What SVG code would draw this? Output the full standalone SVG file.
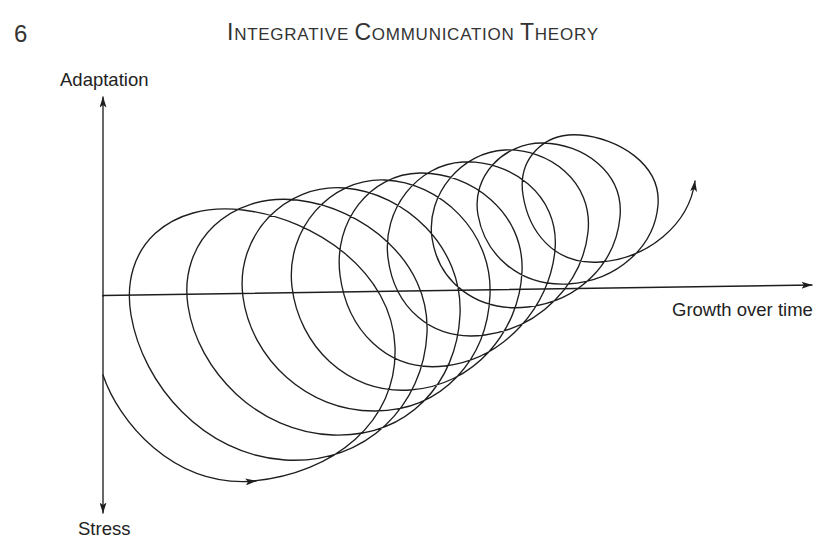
<svg xmlns="http://www.w3.org/2000/svg" width="814" height="540" viewBox="0 0 814 540">
<style>
.ln{fill:none;stroke:#1e1e1e;stroke-width:1.35;stroke-linecap:round}
.lbl{font-family:"Liberation Sans",Arial,sans-serif;font-size:18.5px;fill:#222}
.hd{font-family:"Liberation Sans",Arial,sans-serif;fill:#333}
</style>
<defs>
<marker id="ah" viewBox="0 0 11 7" refX="10.5" refY="3.5" markerWidth="11" markerHeight="7" markerUnits="userSpaceOnUse" orient="auto">
<path d="M0,0 L11,3.5 L0,7 L2.5,3.5 Z" fill="#1e1e1e"/>
</marker>
</defs>
<rect width="814" height="540" fill="#fff"/>
<g id="header">
<text class="hd" x="14" y="42" font-size="24">6</text>
<text class="hd" x="227" y="40" textLength="371" lengthAdjust="spacing"><tspan font-size="23">I</tspan><tspan font-size="17">NTEGRATIVE </tspan><tspan font-size="23">C</tspan><tspan font-size="17">OMMUNICATION </tspan><tspan font-size="23">T</tspan><tspan font-size="17">HEORY</tspan></text>
</g>
<g id="axes">
<line class="ln" x1="103" y1="296" x2="103" y2="97" marker-end="url(#ah)"/>
<line class="ln" x1="103" y1="296" x2="103" y2="513" marker-end="url(#ah)"/>
<line class="ln" x1="103" y1="295.5" x2="812" y2="285" marker-end="url(#ah)"/>
</g>
<g id="spiral">
<path class="ln" marker-end="url(#ah)" d="M103,375 C118,420 172.4,488.7 256,481"/>
<path class="ln" marker-end="url(#ah)" d="M253,481 C333.6,473.3 397.8,421.8 395,347 C392.2,272.2 315.9,218.8 243,210 C170.1,201.2 119.4,246 131,315 C142.6,384 203.3,455 285,460 C366.7,465 423.7,404.8 427,333 C430.3,261.2 363,207.5 297,200 C231,192.5 178.1,241.1 188,306 C197.9,370.9 257.9,432.5 333,435 C408.1,437.5 456.7,383.2 460,315 C463.3,246.8 404.9,193 345,188 C285.1,183 234.7,235.5 243,297 C251.3,358.5 306.8,411.6 375,411 C443.2,410.4 487.2,358.8 490,295 C492.8,231.2 439.6,182.2 385,180 C330.4,177.8 285.1,229 292,287 C298.9,345 346.5,394.1 410,390 C473.5,385.9 519.2,331.9 522,272 C524.8,212.1 470.2,172.2 420,173 C369.8,173.8 333.1,221.7 340,275 C346.9,328.3 385.7,372.9 445,366 C504.3,359.1 550,306.3 555,250 C560,193.7 509.1,159.8 463,162 C416.9,164.2 381.9,210.3 388,258 C394.1,305.7 429.8,342.2 485,335 C540.2,327.8 582.5,283.1 588,232 C593.5,180.9 548.1,148.3 505,150 C461.9,151.7 425.7,194.7 432,238 C438.3,281.3 476.1,312.8 528,307 C579.9,301.2 615.9,262.3 620,217 C624.1,171.7 582.2,143.6 543,143 C503.8,142.4 471.1,176.1 478,215 C484.9,253.9 518.3,286.8 568,284 C617.7,281.2 654.7,246.1 658,205 C661.3,163.9 617.3,137.8 580,135 C542.7,132.2 517.5,159.9 523,195 C528.5,230.1 552.5,265.3 600,262 C647.5,258.7 689,225 695,181"/>
</g>
<g id="labels">
<text class="lbl" x="60" y="86">Adaptation</text>
<text class="lbl" x="672" y="316" font-size="18">Growth over time</text>
<text class="lbl" x="78" y="535">Stress</text>
</g>
</svg>
